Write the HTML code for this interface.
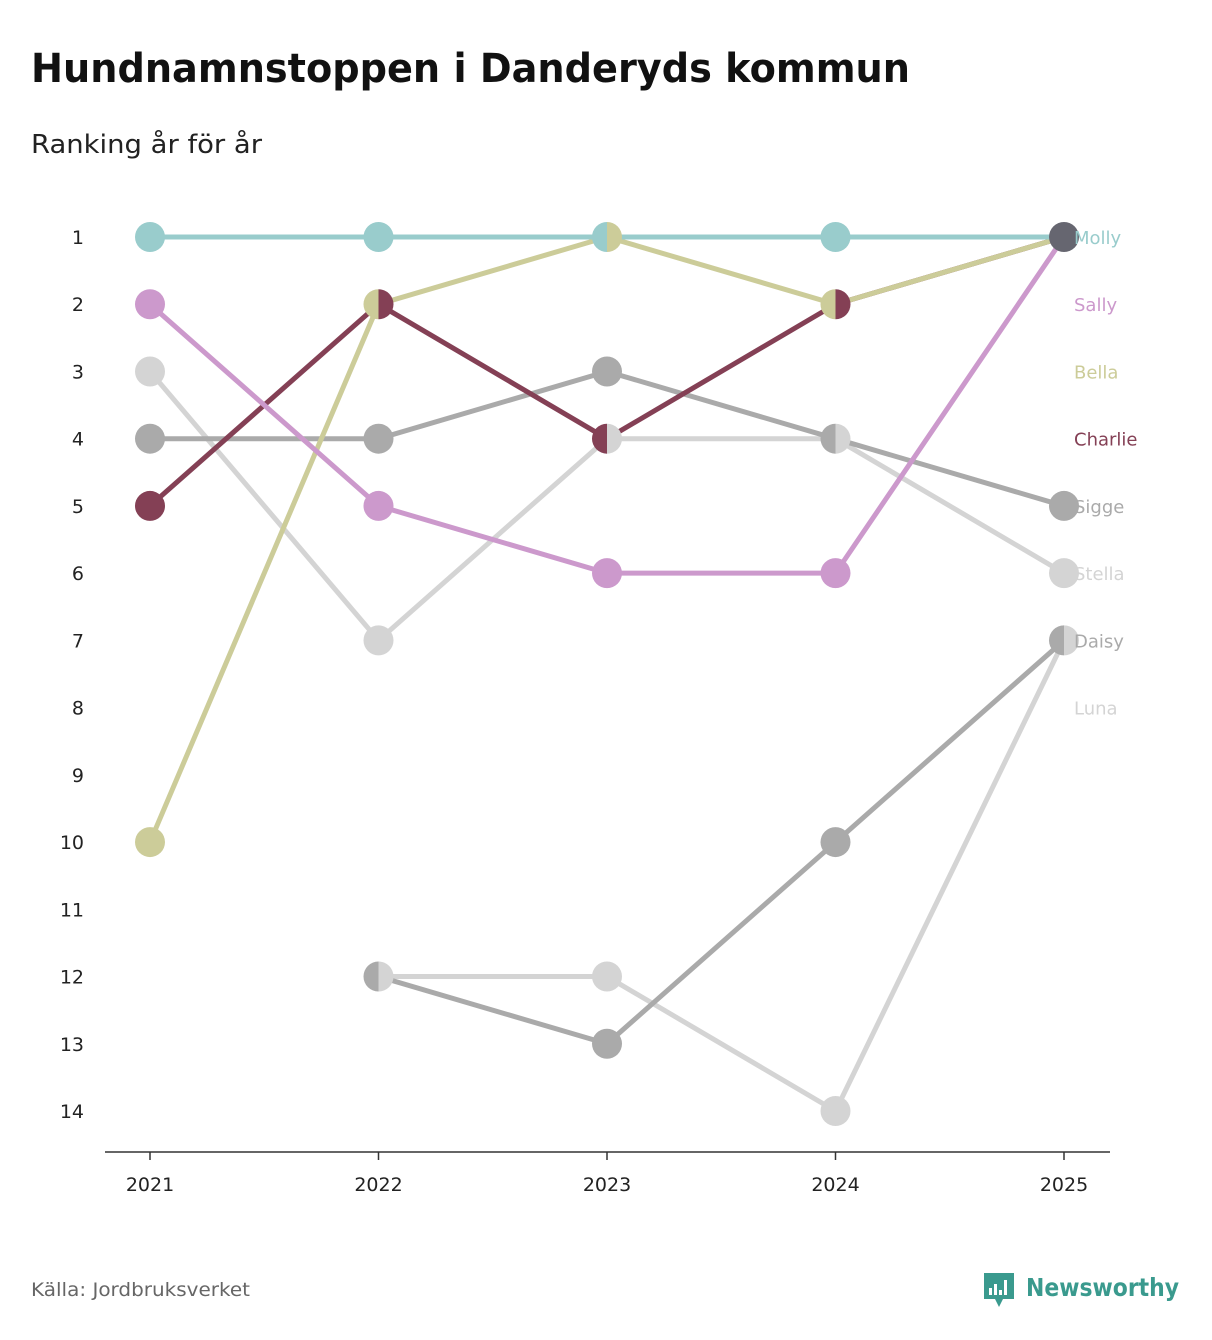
<!DOCTYPE html>
<html><head><meta charset="utf-8">
<style>
body{margin:0;background:#fff;font-family:"DejaVu Sans","Liberation Sans",sans-serif;}
#wrap{position:relative;width:1212px;height:1340px;overflow:hidden;}
</style></head><body>
<div id="wrap">
<svg id="chart" width="1212" height="1340">
<text x="31" y="82" font-size="40" font-weight="bold" fill="#111" textLength="879" lengthAdjust="spacingAndGlyphs">Hundnamnstoppen i Danderyds kommun</text>
<text x="31" y="153" font-size="26" fill="#222" textLength="231" lengthAdjust="spacingAndGlyphs">Ranking år för år</text>
<line x1="105" y1="1152" x2="1110" y2="1152" stroke="#333" stroke-width="1.5"/>
<g id="yticks"></g>
<g id="xticks"></g>
<g id="lines"></g>
<g id="dots"></g>
<g id="labels"></g>
<text x="31" y="1296" font-size="19" fill="#666" textLength="219" lengthAdjust="spacingAndGlyphs">Källa: Jordbruksverket</text>
<g>
<path d="M984 1273 h30 v26 h-11 l-4 8 l-4 -8 h-11 z" fill="#3a9a8e"/>
<rect x="989" y="1288" width="3" height="7" fill="#fff"/><rect x="994" y="1284" width="3" height="11" fill="#fff"/><rect x="999" y="1290" width="3" height="5" fill="#fff"/><rect x="1004" y="1280" width="3" height="15" fill="#fff"/>
<text x="1026" y="1296" font-size="25" font-weight="bold" fill="#3a9a8e" textLength="153" lengthAdjust="spacingAndGlyphs">Newsworthy</text>
</g>
</svg>
</div>
<script>
const years=["2021","2022","2023","2024","2025"];
const names=["Molly","Sally","Bella","Charlie","Sigge","Stella","Daisy","Luna"];
const colors=["#99cccc","#cc99cc","#cccc99","#844055","#aaaaaa","#d4d4d4","#aaaaaa","#d4d4d4"];
const molly=[1,1,1,1,1];
const sally=[2,5,6,6,1];
const bella=[10,2,1,2,1];
const charlie=[5,2,4,2,1];
const sigge=[4,4,3,4,5];
const stella=[3,7,4,4,6];
const daisy=[null,12,13,10,7];
const luna=[null,12,12,14,7];
const series=[molly,sally,bella,charlie,sigge,stella,daisy,luna];
const rankTicks=[1,2,3,4,5,6,7,8,9,10,11,12,13,14];
const NS="http://www.w3.org/2000/svg";
function xS(i){return 150+i*(1064-150)/(years.length-1);}
function yS(r){return 237+(r-1)*(1111-237)/13;}
function mk(t,a,p){const e=document.createElementNS(NS,t);for(const k in a)e.setAttribute(k,a[k]);p.appendChild(e);return e;}
const yt=document.getElementById('yticks'),xt=document.getElementById('xticks');
rankTicks.forEach(r=>{const t=mk('text',{x:84,y:yS(r)+7,'font-size':19,'text-anchor':'end',fill:'#222'},yt);t.textContent=r;

});
years.forEach((y,i)=>{mk('line',{x1:xS(i),x2:xS(i),y1:1152,y2:1160,stroke:'#333','stroke-width':1.5},xt);
const t=mk('text',{x:xS(i),y:1191,'font-size':19,'text-anchor':'middle',fill:'#222'},xt);t.textContent=y;

});
const lg=document.getElementById('lines'),dg=document.getElementById('dots'),lb=document.getElementById('labels');
for(let k=series.length-1;k>=0;k--){const s=series[k];let pts=[];s.forEach((v,i)=>{if(v!=null)pts.push(xS(i)+','+yS(v));});
const p=mk('polyline',{points:pts.join(' '),fill:'none',stroke:colors[k],'stroke-width':5,'stroke-linejoin':'round'},lg);

}
years.forEach((y,i)=>{const groups={};series.forEach((s,k)=>{const v=s[i];if(v==null)return;(groups[v]=groups[v]||[]).push(k);});
for(const r in groups){const g=groups[r],cx=xS(i),cy=yS(+r),R=15;
if(g.length==1){const c=mk('circle',{cx,cy,r:R,fill:colors[g[0]]},dg);

}
else if(g.length==2){const a=mk('path',{d:`M${cx} ${cy-R} A${R} ${R} 0 0 0 ${cx} ${cy+R} Z`,fill:colors[g[0]]},dg);


const b=mk('path',{d:`M${cx} ${cy-R} A${R} ${R} 0 0 1 ${cx} ${cy+R} Z`,fill:colors[g[1]]},dg);

}
else{const c=mk('circle',{cx,cy,r:R,fill:'#666670'},dg);

}}});
names.forEach((n,k)=>{const t=mk('text',{x:1074,y:yS(k+1)+7,'font-size':18,fill:colors[k]},lb);t.textContent=n;

});
</script>
</body></html>
